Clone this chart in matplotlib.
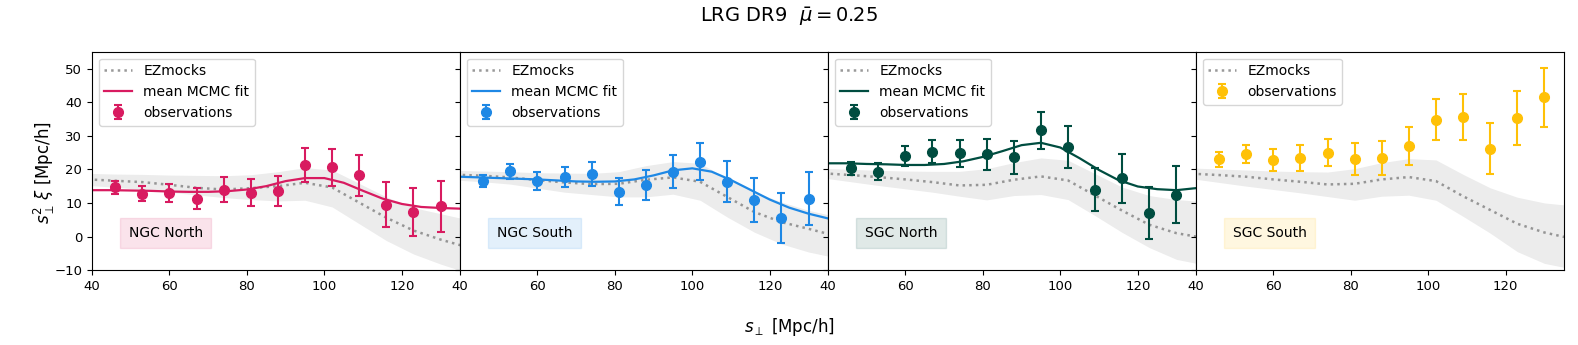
import matplotlib.pyplot as plt

# observations
s_obs = [46, 53, 60, 67, 74, 81, 88, 95, 102, 109, 116, 123, 130]
ngc_north_y = [14.6, 12.8, 12.9, 11.2, 13.9, 13.1, 13.6, 21.3, 20.6, 18.3, 9.5, 7.3, 9.0]
ngc_north_err = [2.0, 2.1, 2.6, 3.1, 3.7, 4.1, 4.5, 5.0, 5.6, 6.1, 6.6, 7.1, 7.6]
ngc_south_y = [16.5, 19.4, 16.6, 17.7, 18.7, 13.4, 15.3, 19.3, 22.3, 16.3, 10.8, 5.6, 11.3]
ngc_south_err = [1.8, 2.25, 2.6, 3.0, 3.6, 3.95, 4.5, 4.9, 5.5, 6.1, 6.5, 7.5, 7.85]
sgc_north_y = [20.3, 19.3, 24.0, 25.2, 24.8, 24.5, 23.6, 31.6, 26.6, 14.0, 17.3, 6.9, 12.5]
sgc_north_err = [2.0, 2.45, 2.95, 3.4, 4.0, 4.6, 4.95, 5.5, 6.25, 6.45, 7.25, 7.75, 8.5]
sgc_south_y = [23.0, 24.5, 22.8, 23.4, 25.0, 23.0, 23.5, 26.9, 34.8, 35.6, 26.2, 35.3, 41.4]
sgc_south_err = [2.25, 2.75, 3.25, 3.75, 4.15, 4.75, 5.05, 5.65, 6.2, 6.9, 7.5, 8.15, 8.85]

# EZmocks mean and spread
s_mock = [39, 46, 53, 60, 67, 74, 81, 88, 95, 102, 109, 116, 123, 130, 137]
ngc_north_mock = [17.0, 16.6, 16.2, 15.4, 14.5, 14.0, 14.4, 15.0, 16.0, 14.6, 10.1, 5.6, 1.8, -0.9, -3.2]
ngc_north_hi = [18.8, 18.6, 18.5, 18.3, 18.2, 18.1, 18.4, 19.3, 20.5, 19.8, 15.8, 11.8, 8.6, 6.8, 5.0]
ngc_north_lo = [15.2, 14.7, 14.0, 13.2, 12.4, 11.6, 11.0, 10.6, 10.8, 8.8, 3.8, -1.2, -5.2, -8.2, -10.8]
ngc_south_mock = [18.4, 18.1, 17.6, 16.8, 16.1, 15.6, 15.7, 16.9, 17.6, 16.3, 11.8, 7.3, 4.3, 2.3, 0.2]
ngc_south_hi = [19.7, 19.5, 19.3, 19.0, 18.9, 18.8, 19.3, 21.1, 22.3, 21.8, 17.3, 13.3, 10.3, 7.8, 6.0]
ngc_south_lo = [16.8, 16.3, 15.6, 14.4, 13.2, 12.5, 11.8, 11.8, 12.6, 10.8, 5.8, 1.3, -2.2, -4.6, -6.3]
sgc_north_mock = [18.8, 18.3, 17.7, 17.0, 16.2, 15.2, 15.4, 16.9, 17.9, 16.7, 12.2, 7.7, 3.5, 1.0, -0.4]
sgc_north_hi = [20.3, 20.0, 19.7, 19.5, 19.4, 19.4, 20.2, 22.0, 23.4, 22.7, 18.7, 14.7, 12.2, 11.0, 10.4]
sgc_north_lo = [17.4, 16.3, 15.2, 14.2, 13.2, 12.0, 10.9, 12.2, 12.5, 11.0, 6.2, 1.2, -3.3, -6.8, -8.4]
sgc_south_mock = [18.7, 18.3, 17.8, 17.0, 16.3, 15.5, 15.7, 17.0, 17.7, 16.5, 12.0, 7.9, 3.8, 1.2, -0.6]
sgc_south_hi = [20.4, 20.1, 19.8, 19.5, 19.3, 19.2, 20.2, 22.0, 23.2, 22.8, 18.5, 14.5, 11.7, 10.0, 9.2]
sgc_south_lo = [17.2, 16.1, 15.0, 14.0, 13.0, 11.9, 10.8, 12.0, 12.3, 10.8, 6.0, 1.0, -4.5, -8.0, -9.6]

# mean MCMC fit
s_fit = [40, 45, 50, 55, 60, 65, 70, 75, 80, 85, 90, 95, 100, 105, 110, 115, 120, 125, 130, 135]
ngc_north_fit = [13.8, 13.8, 13.7, 13.6, 13.4, 13.3, 13.3, 13.5, 14.0, 15.0, 16.5, 17.4, 17.4, 16.0, 13.6, 11.3, 9.7, 8.8, 8.5, 8.3]
ngc_south_fit = [17.8, 17.6, 17.4, 17.2, 17.0, 16.7, 16.4, 16.3, 16.4, 17.0, 18.2, 19.7, 20.3, 19.3, 16.8, 13.9, 11.0, 8.6, 6.8, 5.4]
sgc_north_fit = [21.8, 21.8, 21.6, 21.5, 21.3, 21.3, 21.6, 22.4, 23.7, 25.4, 27.2, 27.9, 26.5, 23.3, 19.8, 16.8, 14.9, 14.1, 13.8, 14.4]

panels = [
    ("NGC North", "#D81B60", ngc_north_y, ngc_north_err, ngc_north_mock, ngc_north_hi, ngc_north_lo, ngc_north_fit),
    ("NGC South", "#1E88E5", ngc_south_y, ngc_south_err, ngc_south_mock, ngc_south_hi, ngc_south_lo, ngc_south_fit),
    ("SGC North", "#004D40", sgc_north_y, sgc_north_err, sgc_north_mock, sgc_north_hi, sgc_north_lo, sgc_north_fit),
    ("SGC South", "#FFC107", sgc_south_y, sgc_south_err, sgc_south_mock, sgc_south_hi, sgc_south_lo, None),
]

fig, axes = plt.subplots(1, 4, figsize=(15.78, 3.45), dpi=100, sharey=True)
fig.subplots_adjust(left=0.0583, right=0.991, top=0.85, bottom=0.217, wspace=0)

for ax, (name, color, y, err, mock, hi, lo, fit) in zip(axes, panels):
    # EZmocks band + mean
    ax.fill_between(s_mock, lo, hi, color="gray", alpha=0.15, lw=0)
    ax.plot(s_mock, mock, ls=":", color="gray", alpha=0.8, lw=1.8, label="EZmocks")
    if fit is not None:
        ax.plot(s_fit, fit, color=color, lw=1.6, label="mean MCMC fit")
    ax.errorbar(s_obs, y, yerr=err, fmt="o", color=color, ms=7, capsize=3,
                elinewidth=1.5, capthick=1.5, label="observations")
    ax.text(0.1, 0.17, name, transform=ax.transAxes, fontsize=10, va="center",
            bbox=dict(boxstyle="square,pad=0.6", facecolor=color, edgecolor=color, alpha=0.12))
    ax.legend(loc="upper left", fontsize=10)
    ax.set_xlim(40, 135)
    ax.set_xticks([40, 60, 80, 100, 120])
    ax.tick_params(labelsize=9.5)

axes[0].set_ylim(-10, 55)
axes[0].set_yticks([-10, 0, 10, 20, 30, 40, 50])

fig.suptitle(r"LRG DR9  $\bar{\mu}=0.25$", fontsize=14, y=0.985)
fig.supxlabel(r"$s_\perp$ [Mpc/h]", fontsize=12, y=0.02)
fig.supylabel(r"$s_\perp^2\,\xi$ [Mpc/h]", fontsize=12, x=0.02)

plt.savefig("out.png")
plt.close(fig)
